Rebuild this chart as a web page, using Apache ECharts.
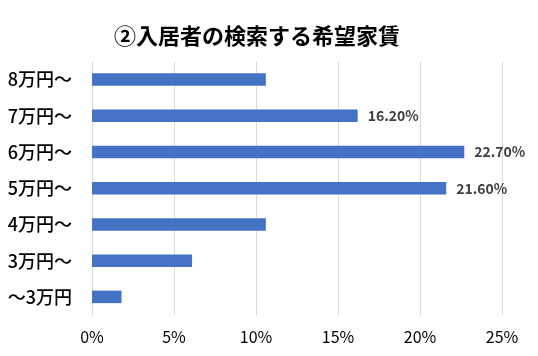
<!DOCTYPE html>
<html><head><meta charset="utf-8">
<script src="https://cdn.jsdelivr.net/npm/echarts@6/dist/echarts.min.js"></script>
<style>html,body{margin:0;padding:0;background:#fff}#c{width:538px;height:356px}</style>
</head><body><div id="c"></div>
<script>
const categories = ['～3万円','3万円～','4万円～','5万円～','6万円～','7万円～','8万円～'];
const values = [1.8, 6.1, 10.6, 21.6, 22.7, 16.2, 10.6];
const labeled = ['5万円～','6万円～','7万円～'];
const xTicks = [0, 5, 10, 15, 20, 25];

const chart = echarts.init(document.getElementById('c'));
chart.setOption({
  animation: false,
  title: {
    text: '②入居者の検索する希望家賃',
    left: 109, top: 20,
    textStyle: {fontFamily: 'Noto Sans CJK JP', fontSize: 22, fontWeight: 'bold', color: '#000'}
  },
  grid: {left: 92, right: 36, top: 61.5, bottom: 41},
  xAxis: {
    type: 'value', min: xTicks[0], max: xTicks[xTicks.length-1], interval: 5,
    axisLine: {show: false}, axisTick: {show: false},
    splitLine: {lineStyle: {color: '#d9d9d9', width: 1}},
    axisLabel: {formatter: v => v + '%', color: '#000', fontSize: 16, margin: 14, fontFamily: 'Noto Sans CJK JP'}
  },
  yAxis: {
    type: 'category', data: categories,
    axisLine: {show: false}, axisTick: {show: false},
    axisLabel: {color: '#000', fontSize: 18, margin: 20, fontFamily: 'Noto Sans CJK JP', fontWeight: 500}
  },
  series: [{
    type: 'bar', barWidth: '34.5%',
    itemStyle: {color: '#4472c4'},
    data: values.map((v, i) => ({
      value: v,
      label: {show: labeled.includes(categories[i])}
    })),
    label: {
      position: 'right', distance: 10,
      formatter: p => p.value.toFixed(2) + '%',
      color: '#404040', fontSize: 14, fontWeight: 'bold', fontFamily: 'Noto Sans CJK JP'
    }
  }]
});
</script></body></html>
